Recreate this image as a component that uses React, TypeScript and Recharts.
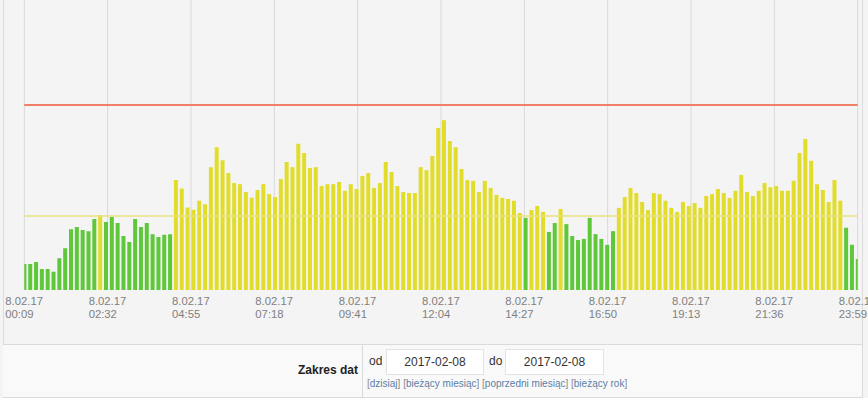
import { BarChart, Bar, Cell, XAxis, YAxis, CartesianGrid, ReferenceLine } from 'recharts'

// 10-minute samples starting at 00:09
const START_MIN = 9
const STEP_MIN = 10
const load = [
  0.70, 0.70, 0.76, 0.57, 0.57, 0.49, 0.86, 1.13, 1.64, 1.70,
  1.62, 1.59, 1.92, 2.03, 1.84, 1.97, 1.81, 1.46, 1.30, 1.92,
  1.70, 1.81, 1.51, 1.43, 1.49, 1.51, 2.97, 2.74, 2.23, 2.17,
  2.41, 2.32, 3.32, 3.86, 3.51, 3.16, 2.89, 2.86, 2.65, 2.49,
  2.70, 2.86, 2.59, 2.51, 3.00, 3.46, 3.32, 3.95, 3.70, 3.30,
  3.32, 2.81, 2.86, 2.86, 2.92, 2.68, 2.86, 2.73, 3.08, 3.16,
  2.76, 2.89, 3.46, 3.19, 2.81, 2.65, 2.62, 2.62, 3.32, 3.24,
  3.62, 4.38, 4.59, 4.03, 3.86, 3.27, 2.97, 2.95, 2.65, 2.95,
  2.76, 2.57, 2.49, 2.46, 2.41, 2.08, 1.95, 2.16, 2.27, 2.11,
  1.57, 1.81, 2.19, 1.78, 1.46, 1.35, 1.38, 1.95, 1.51, 1.38,
  1.22, 1.59, 2.22, 2.51, 2.76, 2.62, 2.38, 2.16, 2.62, 2.59,
  2.41, 2.22, 2.11, 2.38, 2.27, 2.35, 2.22, 2.54, 2.59, 2.73,
  2.62, 2.49, 2.68, 3.11, 2.65, 2.54, 2.68, 2.89, 2.78, 2.81,
  2.68, 2.68, 2.95, 3.70, 4.08, 3.49, 2.86, 2.70, 2.38, 2.97,
  2.41, 1.68, 1.22, 0.84,
]
const WARN = 2
const ALARM = 5
const tickDate = '8.02.17'
const tickTimes = ['00:09', '02:32', '04:55', '07:18', '09:41', '12:04', '14:27', '16:50', '19:13', '21:36', '23:59']
const yTicks = [1, 2, 3, 4, 5, 6, 7]
const dateFrom = '2017-02-08'
const dateTo = '2017-02-08'
const links = ['dzisiaj', 'bieżący miesiąc', 'poprzedni miesiąc', 'bieżący rok']

const toMin = (s: string) => {
  const [h, m] = s.split(':').map(Number)
  return h * 60 + m
}
const tickMinutes = tickTimes.map(toMin)
const data = load.map((v, i) => ({ t: START_MIN + i * STEP_MIN, v }))

const FONT = 'Arial, "Liberation Sans", sans-serif'
const GREEN = '#5ec83a'
const YELLOW = '#e2dc2a'

// two-line label block, centred on the tick, lines left-aligned
function TimeTick(props: any) {
  const { x, y, payload } = props
  const label = tickTimes[tickMinutes.indexOf(payload.value)] ?? ''
  const left = x - 19
  return (
    <g fill="#808080" fontSize={11.3} fontFamily={FONT}>
      <text x={left} y={y + 15}>{tickDate}</text>
      <text x={left} y={y + 28}>{label}</text>
    </g>
  )
}

const box: React.CSSProperties = {
  position: 'absolute', top: 349, height: 26, background: '#fff', border: '1px solid #e3e3e3',
  boxSizing: 'border-box', fontSize: 12, color: '#333', textAlign: 'center', lineHeight: '24px',
}

export default function App() {
  return (
    <div style={{ position: 'relative', width: 868, height: 398, background: '#f4f4f4', overflow: 'hidden', fontFamily: FONT }}>
      <style>{'body{margin:0}'}</style>
      <div style={{ position: 'absolute', left: 3, top: -1, width: 858, height: 400, borderLeft: '1px solid #dcdcdc', borderRight: '1px solid #dcdcdc' }} />
      <div style={{ position: 'absolute', left: 0, top: -6, width: 868, height: 334, overflow: 'hidden' }}>
        <BarChart width={868} height={334} data={data} margin={{ top: 0, right: 10.3, bottom: 0, left: 24.3 }}>
          <CartesianGrid horizontal={false} stroke="#d9d9d9" />
          <XAxis type="number" dataKey="t" domain={[START_MIN, tickMinutes[tickMinutes.length - 1]]} ticks={tickMinutes} interval={0}
            allowDataOverflow axisLine={false} tickLine={false} tickSize={0} tickMargin={0} tick={<TimeTick />} height={38} />
          <YAxis domain={[0, 8]} ticks={yTicks} mirror width={0} axisLine={false} tick={false} tickSize={4} tickLine={{ stroke: '#cfcfcf' }} />
          <ReferenceLine y={ALARM} stroke="#f07e69" strokeWidth={2} />
          <ReferenceLine y={WARN} stroke="#e9e27f" strokeWidth={1.5} />
          <Bar dataKey="v" barSize={4} isAnimationActive={false}>
            {data.map((d, i) => (
              <Cell key={i} fill={d.v < WARN ? GREEN : YELLOW} />
            ))}
          </Bar>
        </BarChart>
      </div>

      <div style={{ position: 'absolute', left: 3, top: 344, width: 859, height: 52, borderTop: '1px solid #dadada', borderBottom: '1px solid #dadada', background: '#f9f9f9' }} />
      <div style={{ position: 'absolute', left: 362, top: 345, width: 1, height: 52, background: '#dadada' }} />
      <div style={{ position: 'absolute', left: 240, top: 363, width: 118, textAlign: 'right', fontSize: 12, fontWeight: 'bold', color: '#222' }}>Zakres dat</div>
      <div style={{ position: 'absolute', left: 369, top: 354, fontSize: 12, color: '#333' }}>od</div>
      <div style={{ ...box, left: 386, width: 98 }}>{dateFrom}</div>
      <div style={{ position: 'absolute', left: 489, top: 354, fontSize: 12, color: '#333' }}>do</div>
      <div style={{ ...box, left: 505, width: 99 }}>{dateTo}</div>
      <div style={{ position: 'absolute', left: 367, top: 378, fontSize: 10, color: '#888', whiteSpace: 'nowrap' }}>
        {links.map((l, i) => (
          <span key={l}>{i > 0 ? ' ' : ''}[<span style={{ color: '#5b7fa6' }}>{l}</span>]</span>
        ))}
      </div>
    </div>
  )
}
